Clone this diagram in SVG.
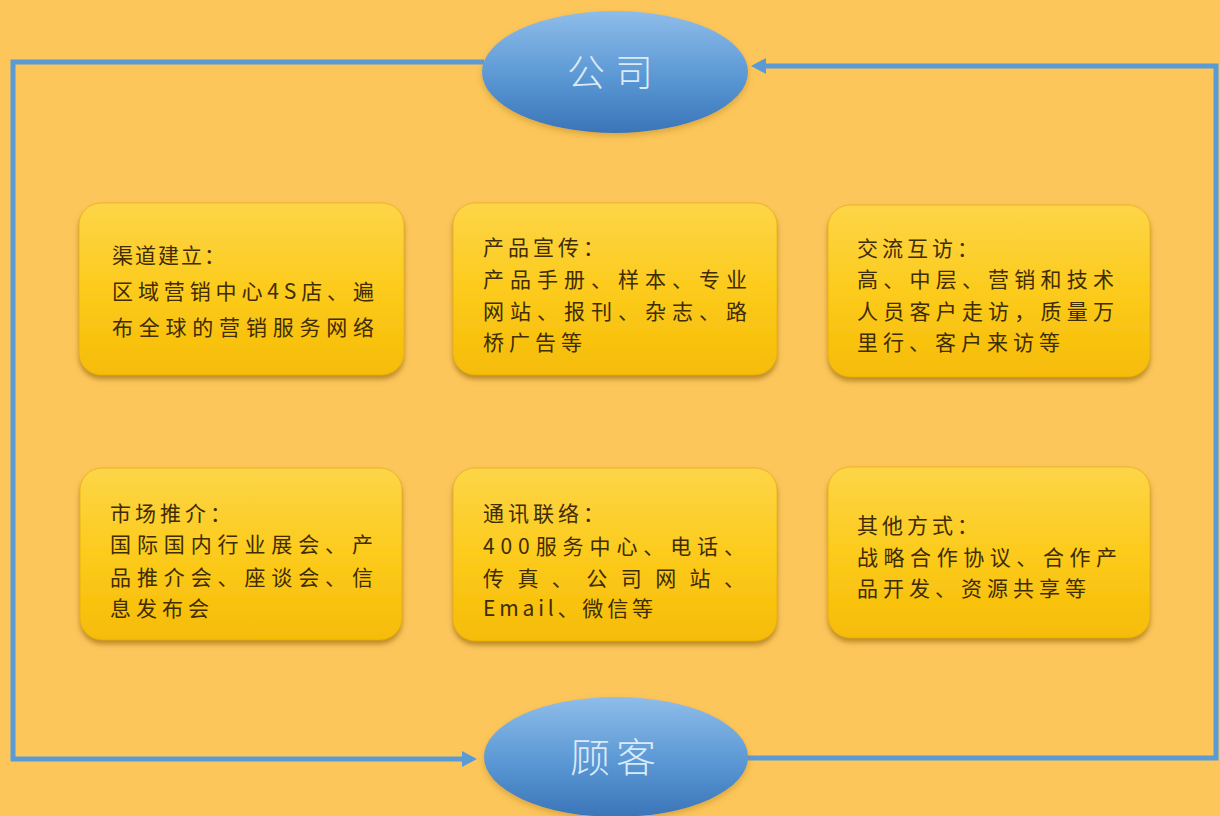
<svg xmlns="http://www.w3.org/2000/svg" width="1220" height="816" viewBox="0 0 1220 816">
  <defs>
    <linearGradient id="boxGrad" x1="0" y1="0" x2="0" y2="1">
      <stop offset="0" stop-color="#FDD548"/>
      <stop offset="0.5" stop-color="#FCCB1C"/>
      <stop offset="1" stop-color="#F6BC06"/>
    </linearGradient>
    <linearGradient id="ellGrad" x1="0" y1="0" x2="0" y2="1">
      <stop offset="0" stop-color="#8EBDE9"/>
      <stop offset="0.55" stop-color="#5A97D4"/>
      <stop offset="1" stop-color="#3A75B8"/>
    </linearGradient>
    <filter id="boxShadow" x="-10%" y="-10%" width="120%" height="130%">
      <feGaussianBlur in="SourceAlpha" stdDeviation="2.5"/>
      <feOffset dx="0" dy="4" result="b"/>
      <feFlood flood-color="#8A5A00" flood-opacity="0.55"/>
      <feComposite in2="b" operator="in" result="s"/>
      <feMerge>
        <feMergeNode in="s"/>
        <feMergeNode in="SourceGraphic"/>
      </feMerge>
    </filter>
    <filter id="ellShadow" x="-10%" y="-10%" width="120%" height="130%">
      <feGaussianBlur in="SourceAlpha" stdDeviation="3"/>
      <feOffset dx="0" dy="3" result="b"/>
      <feFlood flood-color="#9A6A10" flood-opacity="0.35"/>
      <feComposite in2="b" operator="in" result="s"/>
      <feMerge>
        <feMergeNode in="s"/>
        <feMergeNode in="SourceGraphic"/>
      </feMerge>
    </filter>
    <marker id="arrow" markerUnits="userSpaceOnUse" markerWidth="16" markerHeight="18" refX="10" refY="8" orient="auto">
      <path d="M0,0 L15,8 L0,16 z" fill="#5B9BD5"/>
    </marker>
    <style>
      .box { fill: url(#boxGrad); stroke: #E3A908; stroke-width: 1; stroke-opacity: 0.6; filter: url(#boxShadow); }
      .ell { fill: url(#ellGrad); filter: url(#ellShadow); }
      .conn { fill: none; stroke: #5B9BD5; stroke-width: 5; }
      .t { font-family: "Noto Sans CJK SC", "Liberation Serif", sans-serif; font-size: 21px; fill: #3F2C00; letter-spacing: 5px; }
      .title { letter-spacing: 4px; }
      .full { letter-spacing: 0px; }
      .et { font-family: "Noto Sans CJK SC", sans-serif; font-weight: 300; fill: #DCEAF7; text-anchor: middle; }
    </style>
  </defs>

  <rect x="0" y="0" width="1220" height="816" fill="#FCC65B"/>

  <g id="connectors">
    <path class="conn" d="M484,62 H13 V759 H472" marker-end="url(#arrow)"/>
    <path class="conn" d="M746,758 H1216 V66 H756" marker-end="url(#arrow)"/>
  </g>

  <g id="company">
    <ellipse class="ell" cx="615" cy="72" rx="133" ry="61"/>
    <text class="et" x="615" y="86" font-size="38" letter-spacing="10">公司</text>
  </g>

  <g id="customer">
    <ellipse class="ell" cx="616" cy="757" rx="132" ry="60"/>
    <text class="et" x="616" y="772" font-size="40" letter-spacing="6">顾客</text>
  </g>

  <g id="box-channel">
    <rect class="box" x="79" y="203" width="325" height="172" rx="22" ry="22"/>
    <text class="t" style="letter-spacing:2px" x="112" y="263">渠道建立：</text>
    <text class="t full" x="112" y="299" textLength="262" lengthAdjust="spacing">区域营销中心4S店、遍</text>
    <text class="t full" x="112" y="335" textLength="262" lengthAdjust="spacing">布全球的营销服务网络</text>
  </g>

  <g id="box-promo">
    <rect class="box" x="453" y="203" width="324" height="172" rx="22" ry="22"/>
    <text class="t title" x="483" y="255">产品宣传：</text>
    <text class="t full" x="483" y="287" textLength="264" lengthAdjust="spacing">产品手册、样本、专业</text>
    <text class="t full" x="483" y="319" textLength="264" lengthAdjust="spacing">网站、报刊、杂志、路</text>
    <text class="t" x="483" y="350">桥广告等</text>
  </g>

  <g id="box-visit">
    <rect class="box" x="828" y="205" width="322" height="172" rx="22" ry="22"/>
    <text class="t title" x="857" y="256">交流互访：</text>
    <text class="t full" x="857" y="287" textLength="257" lengthAdjust="spacing">高、中层、营销和技术</text>
    <text class="t full" x="857" y="319" textLength="257" lengthAdjust="spacing">人员客户走访，质量万</text>
    <text class="t" x="857" y="350">里行、客户来访等</text>
  </g>

  <g id="box-market">
    <rect class="box" x="80" y="468" width="322" height="172" rx="22" ry="22"/>
    <text class="t title" x="110" y="521">市场推介：</text>
    <text class="t full" x="110" y="552" textLength="263" lengthAdjust="spacing">国际国内行业展会、产</text>
    <text class="t full" x="110" y="585" textLength="263" lengthAdjust="spacing">品推介会、座谈会、信</text>
    <text class="t" x="110" y="616">息发布会</text>
  </g>

  <g id="box-comm">
    <rect class="box" x="453" y="468" width="324" height="173" rx="22" ry="22"/>
    <text class="t title" x="483" y="521">通讯联络：</text>
    <text class="t full" x="483" y="554" textLength="262" lengthAdjust="spacing">400服务中心、电话、</text>
    <text class="t full" x="483" y="586" textLength="262" lengthAdjust="spacing">传真、公司网站、</text>
    <text class="t full" x="483" y="616" textLength="170" lengthAdjust="spacing">Email、微信等</text>
  </g>

  <g id="box-other">
    <rect class="box" x="828" y="467" width="322" height="171" rx="22" ry="22"/>
    <text class="t title" x="857" y="533">其他方式：</text>
    <text class="t full" x="857" y="565" textLength="260" lengthAdjust="spacing">战略合作协议、合作产</text>
    <text class="t" x="857" y="596">品开发、资源共享等</text>
  </g>
</svg>
